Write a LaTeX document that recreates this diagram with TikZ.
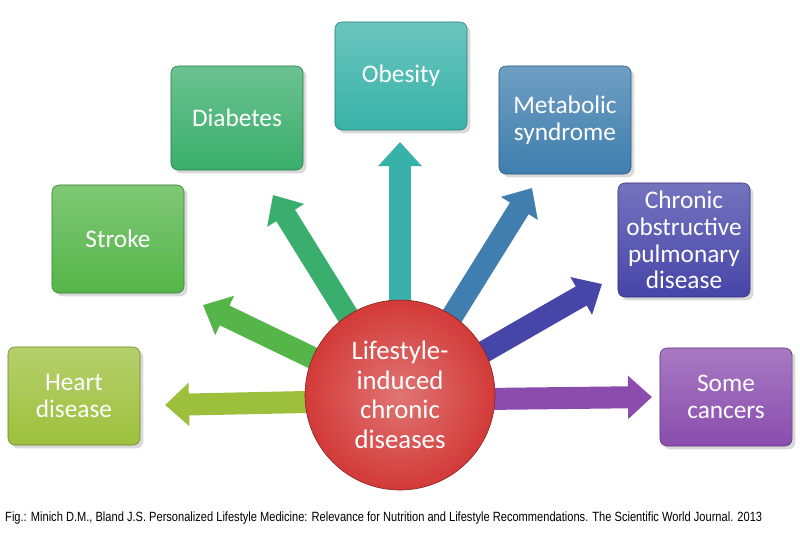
\documentclass[tikz,border=0pt]{standalone}
\usepackage{fontspec}
\setmainfont{Carlito}
\newfontfamily\capfont{Liberation Sans}
\usetikzlibrary{arrows.meta, positioning, shadows}
\definecolor{heartc}{HTML}{9DC03C}
\definecolor{strokec}{HTML}{55B548}
\definecolor{diabc}{HTML}{3AAE6C}
\definecolor{obesc}{HTML}{38B2A8}
\definecolor{metac}{HTML}{3F7EAE}
\definecolor{copdc}{HTML}{4645A8}
\definecolor{cancc}{HTML}{8A4DAE}
\definecolor{corec}{HTML}{D23A38}
\tikzset{
    disease/.style={
        rectangle,
        rounded corners=5pt,
        draw=#1!70!black,
        top color=#1!75!white,
        bottom color=#1,
        minimum width=3.3cm,
        minimum height=2.5cm,
        align=center,
        text=white,
        font=\fontsize{18}{19}\selectfont,
        drop shadow={opacity=0.3}
    },
    core/.style={
        circle,
        draw=corec!60!black,
        inner color=corec!70!white,
        outer color=corec,
        minimum size=4.75cm,
        align=center,
        text=white,
        font=\fontsize{19}{21}\selectfont
    },
    fan/.style={
        draw=#1,
        line width=0.55cm,
        -{Triangle[width=1.05cm, length=0.6cm]}
    }
}
\begin{document}
\begin{tikzpicture}[x=0.025cm, y=-0.025cm]
\useasboundingbox (0,0) rectangle (800,533);

% Disease boxes
\node[disease=heartc, minimum height=2.45cm] (heart) at (74,396) {Heart\\disease};
\node[disease=strokec, minimum height=2.7cm] (stroke) at (118,239) {Stroke};
\node[disease=diabc, minimum height=2.6cm] (diab) at (237,118) {Diabetes};
\node[disease=obesc, minimum height=2.7cm] (obes) at (401,76) {Obesity};
\node[disease=metac, minimum height=2.7cm] (meta) at (565,120) {Metabolic\\syndrome};
\node[disease=copdc, minimum height=2.85cm] (copd) at (684,240) {Chronic\\obstructive\\pulmonary\\disease};
\node[disease=cancc, minimum height=2.45cm] (canc) at (726,397) {Some\\cancers};

% Arrow ends
\coordinate (c0) at (400,400);
\coordinate (t1) at (165,405);
\coordinate (t2) at (203,305);
\coordinate (t3) at (273,195);
\coordinate (t4) at (400,142);
\coordinate (t5) at (532,188);
\coordinate (t6) at (602,284);
\coordinate (t7) at (652,397);

% Arrows
\draw[fan=heartc] (c0) -- (t1);
\draw[fan=strokec] (c0) -- (t2);
\draw[fan=diabc] (c0) -- (t3);
\draw[fan=obesc] (c0) -- (t4);
\draw[fan=metac] (c0) -- (t5);
\draw[fan=copdc] (c0) -- (t6);
\draw[fan=cancc] (c0) -- (t7);

% Centre
\node[core] (life) at (400,395) {Lifestyle-\\induced\\chronic\\diseases};

% Caption
\node[anchor=west, font=\capfont\fontsize{9.5}{10}\selectfont, xscale=0.83, inner sep=0pt] (cap) at (5,518)
  {Fig.: Minich D.M., Bland J.S. Personalized Lifestyle Medicine: Relevance for Nutrition and Lifestyle Recommendations. The Scientific World Journal. 2013};
\end{tikzpicture}
\end{document}
